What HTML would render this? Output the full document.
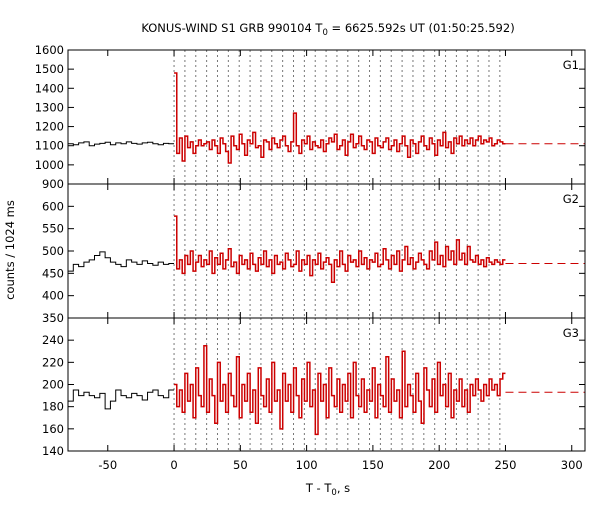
<!DOCTYPE html>
<html><head><meta charset="utf-8"><style>
body{margin:0;background:#fff}
svg text{font-family:"DejaVu Sans","Liberation Sans",sans-serif;font-size:11.5px;fill:#000}
</style></head><body>
<svg id="c" width="600" height="500" xmlns="http://www.w3.org/2000/svg">
<text x="328" y="32" text-anchor="middle">KONUS-WIND S1 GRB 990104 T<tspan font-size="8.5" dy="3">0</tspan><tspan dy="-3"> = 6625.592s UT (01:50:25.592)</tspan></text>
<text transform="translate(14,250) rotate(-90)" text-anchor="middle">counts / 1024 ms</text>
<text x="328" y="492" text-anchor="middle">T - T<tspan font-size="8.5" dy="3">0</tspan><tspan dy="-3">, s</tspan></text>
</svg>
<script>
const xTicks=[-50,0,50,100,150,200,250,300];
const preStart=-80, preBin=4, postEnd=250;
const g1Pre=[1110,1105,1115,1120,1100,1108,1112,1118,1105,1115,1110,1120,1112,1108,1115,1118,1110,1105,1112,1110];
const g1Post=[1480,1060,1140,1020,1150,1090,1120,1060,1100,1130,1100,1110,1120,1080,1130,1100,1060,1140,1110,1070,1010,1150,1100,1080,1160,1110,1050,1130,1110,1170,1090,1100,1040,1130,1120,1080,1140,1110,1090,1130,1150,1100,1070,1120,1270,1100,1060,1130,1110,1150,1080,1120,1100,1090,1130,1070,1110,1140,1120,1160,1080,1100,1130,1050,1120,1160,1090,1110,1150,1100,1080,1130,1120,1060,1140,1100,1090,1120,1140,1080,1100,1130,1070,1110,1150,1100,1040,1130,1110,1060,1120,1150,1100,1080,1140,1110,1050,1130,1100,1170,1090,1120,1060,1140,1110,1150,1100,1130,1110,1140,1100,1130,1150,1110,1130,1120,1140,1100,1110,1130,1120,1110];
const g2Pre=[455,470,465,475,480,490,498,485,475,470,465,480,475,470,478,472,468,475,470,472];
const g2Post=[578,460,480,450,490,470,500,455,475,490,465,480,470,500,450,485,470,495,460,480,505,465,475,450,490,470,480,460,495,470,455,485,470,500,465,480,450,490,470,475,460,495,480,465,470,500,455,480,470,490,445,480,470,495,460,475,485,470,430,480,465,500,470,455,490,475,480,465,500,470,485,460,480,475,495,465,470,505,480,460,490,470,500,455,480,510,470,485,460,475,495,480,470,460,500,480,520,470,490,465,510,480,500,470,525,480,495,470,510,480,475,490,470,480,465,485,475,470,480,475,470,480];
const g3Pre=[185,195,190,193,190,188,192,178,185,195,190,188,192,190,186,193,195,190,188,195];
const g3Post=[200,180,195,175,210,185,200,170,215,190,180,235,175,205,190,165,220,185,200,175,210,190,180,225,170,200,185,210,175,195,165,215,190,180,205,175,220,185,195,160,210,185,200,175,215,190,170,205,185,220,180,195,155,210,185,200,170,215,190,180,205,175,200,185,210,170,220,190,180,205,175,195,185,215,170,200,190,180,225,175,205,185,195,170,230,180,200,190,175,210,185,165,215,195,180,205,175,220,190,200,180,210,170,195,185,205,180,195,175,200,190,205,195,185,200,190,205,195,200,190,205,210];
const bgLevels=[1110,472,193];
const g1Ticks=[900,1000,1100,1200,1300,1400,1500,1600];
const g2Ticks=[350,400,450,500,550,600];
const g3Ticks=[140,160,180,200,220,240];

const NS="http://www.w3.org/2000/svg", svg=document.getElementById('c');
const L=68,R=585,X0=-80,X1=310;
const sx=t=>L+(t-X0)*(R-L)/(X1-X0);
function mk(tag,at,parent){const e=document.createElementNS(NS,tag);for(const k in at)e.setAttribute(k,at[k]);(parent||svg).appendChild(e);return e;}
const panels=[
 {name:'g1',top:50,bot:184,min:900,max:1600,pre:g1Pre,post:g1Post,ticks:g1Ticks,lab:'G1'},
 {name:'g2',top:184,bot:318,min:350,max:650,pre:g2Pre,post:g2Post,ticks:g2Ticks,lab:'G2'},
 {name:'g3',top:318,bot:451,min:140,max:260,pre:g3Pre,post:g3Post,ticks:g3Ticks,lab:'G3'}];
panels.forEach((p,pi)=>{
 const sy=v=>p.bot-(v-p.min)*(p.bot-p.top)/(p.max-p.min);
 const g=mk('g',{});
 
 
 for(let i=0;i<=30;i++){const t=i*8.192;const l=mk('line',{x1:sx(t),x2:sx(t),y1:p.top,y2:p.bot,stroke:'#777','stroke-dasharray':'2,3','stroke-width':1},g);
  
  }
 let d='';p.pre.forEach((v,i)=>{const a=sx(preStart+i*preBin),b=sx(preStart+(i+1)*preBin);d+=(i?'L':'M')+a+','+sy(v)+'L'+b+','+sy(v);});
 const h1=mk('path',{d:d,fill:'none',stroke:'#000','stroke-width':1},g);
 
 
 const bw=postEnd/p.post.length;
 d='';p.post.forEach((v,i)=>{const a=sx(i*bw),b=sx((i+1)*bw);d+=(i?'L':'M')+a+','+sy(v)+'L'+b+','+sy(v);});
 const h2=mk('path',{d:d,fill:'none',stroke:'#cc0000','stroke-width':1.5},g);
 
 
 const bg=mk('line',{x1:sx(postEnd),x2:R,y1:sy(bgLevels[pi]),y2:sy(bgLevels[pi]),stroke:'#cc0000','stroke-dasharray':'8,5','stroke-width':1},g);
 
 
 const fr=mk('rect',{x:L,y:p.top,width:R-L,height:p.bot-p.top,fill:'none',stroke:'#000','stroke-width':1},g);
 
 
 p.ticks.forEach(v=>{const y=sy(v);
  mk('line',{x1:L,x2:L+6,y1:y,y2:y,stroke:'#000'},g);mk('line',{x1:R,x2:R-6,y1:y,y2:y,stroke:'#000'},g);
  const t=mk('text',{x:L-4,y:y+4,'text-anchor':'end'},g);t.textContent=v;
  
  });
 xTicks.forEach(v=>{const x=sx(v);mk('line',{x1:x,x2:x,y1:p.top,y2:p.top+6,stroke:'#000'},g);mk('line',{x1:x,x2:x,y1:p.bot,y2:p.bot-6,stroke:'#000'},g);});
 const lb=mk('text',{x:R-6,y:p.top+19,'text-anchor':'end'},g);lb.textContent=p.lab;
 
 
});
xTicks.forEach(v=>{const t=mk('text',{x:sx(v),y:469,'text-anchor':'middle'});t.textContent=v;
 
 });
</script>
</body></html>
